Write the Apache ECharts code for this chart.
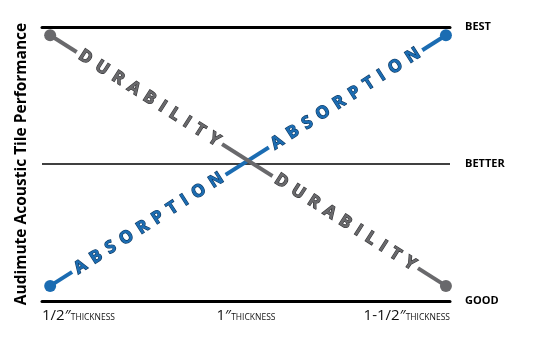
<!DOCTYPE html>
<html>
<head>
<meta charset="utf-8">
<script src="https://cdn.jsdelivr.net/npm/echarts@6/dist/echarts.min.js"></script>
<style>html,body{margin:0;padding:0;background:#fff}#c{width:536px;height:361px}</style>
</head>
<body>
<div id="c"></div>
<script>
// ---- data ----
const xTickValues = [0.5, 1, 1.5];
const xTickLabels = ['1/2\u2033', '1\u2033', '1-1/2\u2033'];
const xTickSuffix = 'THICKNESS';
const levelValues = [0, 1, 2];
const levelLabels = ['GOOD', 'BETTER', 'BEST'];
const yAxisTitle = 'Audimute Acoustic Tile Performance';

const durabilityName = 'DURABILITY';
const durabilityX = [0.52, 1.49];
const durabilityY = [1.94, 0.11];
const durabilityLabelX = [0.763, 1.243];
const durabilityLabelY = [1.48, 0.575];

const absorptionName = 'ABSORPTION';
const absorptionX = [0.52, 1.49];
const absorptionY = [0.11, 1.94];
const absorptionLabelX = [0.762, 1.244];
const absorptionLabelY = [0.566, 1.476];

// ---- styles ----
const GRAY = '#69696c', GRAY_DARK = '#333335';
const BLUE = '#1b6cb2', BLUE_DARK = '#0a355e';
const ANGLE = 32.6;

function spaced(word) {
  return word.split('').join('{g|\u00a0}');
}
function pairs(xs, ys) { return xs.map((x, i) => [x, ys[i]]); }

function lineSeries(name, xs, ys, color, z) {
  return {
    type: 'line', name, data: pairs(xs, ys), z,
    symbol: 'circle', symbolSize: 12, showSymbol: true,
    lineStyle: { color, width: 4, opacity: 1 }, itemStyle: { color, opacity: 1 },
    silent: true, animation: false
  };
}
function labelSeries(word, xs, ys, color, border, rot, z) {
  return {
    type: 'scatter', data: pairs(xs, ys), z, symbolSize: 0.1,
    itemStyle: { color: '#fff', opacity: 1 }, silent: true, animation: false,
    label: {
      show: true, position: 'inside', rotate: rot, opacity: 1,
      formatter: () => spaced(word),
      color, fontFamily: 'Open Sans', fontWeight: 'bold', fontSize: 17,
      textBorderColor: border, textBorderWidth: 1.2,
      backgroundColor: '#ffffff', padding: [0, 4], lineHeight: 18,
      rich: { g: { width: 7, fontSize: 17, lineHeight: 18 } }
    }
  };
}

const chart = echarts.init(document.getElementById('c'), null, { renderer: 'canvas' });
chart.setOption({
  animation: false,
  grid: { left: 42, right: 86, top: 27, bottom: 60 },
  xAxis: [
    {
      type: 'value', min: 0.5, max: 1.5, interval: 0.5, position: 'bottom',
      axisLine: { onZero: false, lineStyle: { color: '#000', width: 3 } },
      axisTick: { show: false }, splitLine: { show: false },
      axisLabel: {
        margin: 5, alignMinLabel: 'left', alignMaxLabel: 'right',
        formatter: v => {
          const i = xTickValues.indexOf(v);
          return i < 0 ? '' : '{n|' + xTickLabels[i] + '}{s|' + xTickSuffix + '}';
        },
        rich: {
          n: { fontFamily: 'Open Sans', fontSize: 15, color: '#111', lineHeight: 17, verticalAlign: 'bottom' },
          s: { fontFamily: 'Open Sans', fontSize: 8.5, color: '#111', lineHeight: 17, verticalAlign: 'bottom', padding: [0, 0, 1, 0] }
        }
      }
    },
    {
      type: 'value', min: 0.5, max: 1.5, position: 'top',
      axisLine: { onZero: false, lineStyle: { color: '#000', width: 3 } },
      axisTick: { show: false }, axisLabel: { show: false }, splitLine: { show: false }
    }
  ],
  yAxis: [
    {
      type: 'value', min: 0, max: 2, interval: 1, position: 'left',
      name: yAxisTitle, nameLocation: 'middle', nameGap: 12, nameRotate: 90,
      nameTextStyle: { fontFamily: 'Open Sans', fontWeight: 'bold', fontSize: 15.5, color: '#000' },
      axisLine: { show: false }, axisTick: { show: false }, axisLabel: { show: false },
      splitLine: { show: true, lineStyle: { color: '#000', width: 1.5 } }
    },
    {
      type: 'value', min: 0, max: 2, interval: 1, position: 'right',
      axisLine: { show: false }, axisTick: { show: false }, splitLine: { show: false },
      axisLabel: {
        margin: 15, fontFamily: 'Open Sans', fontWeight: 'bold', fontSize: 11, color: '#000',
        formatter: v => { const i = levelValues.indexOf(v); return i < 0 ? '' : levelLabels[i]; }
      }
    }
  ],
  series: [
    lineSeries(absorptionName, absorptionX, absorptionY, BLUE, 2),
    lineSeries(durabilityName, durabilityX, durabilityY, GRAY, 3),
    labelSeries(durabilityName, durabilityLabelX, durabilityLabelY, GRAY, GRAY_DARK, -ANGLE, 5),
    labelSeries(absorptionName, absorptionLabelX, absorptionLabelY, BLUE, BLUE_DARK, ANGLE, 5)
  ]
});
</script>
</body>
</html>
